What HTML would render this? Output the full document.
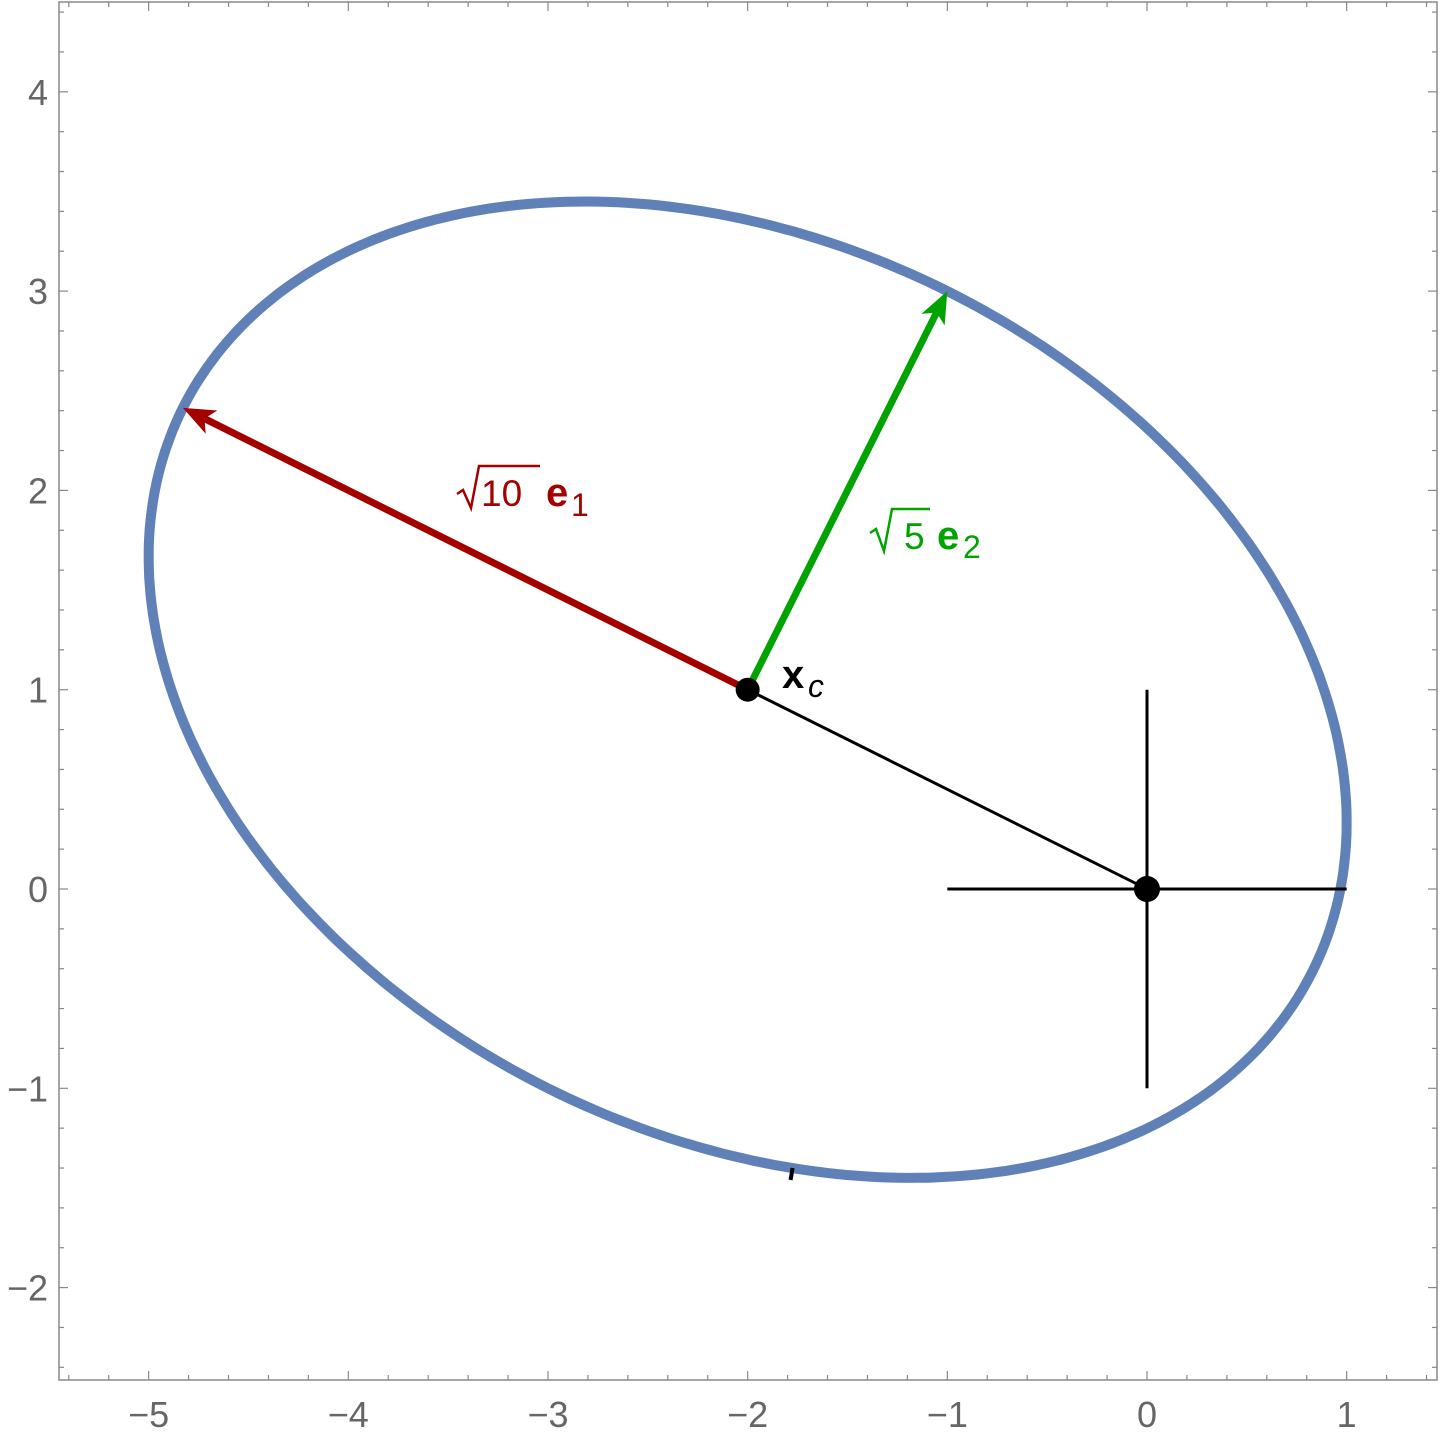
<!DOCTYPE html>
<html><head><meta charset="utf-8"><style>
html,body{margin:0;padding:0;background:#fff;}
svg{display:block;font-family:"Liberation Sans",sans-serif;}
</style></head><body>
<svg id="chart" width="1440" height="1439" viewBox="0 0 1440 1439" xmlns="http://www.w3.org/2000/svg">
<g id="frame"></g>
<g id="marks"></g>
</svg>
<script>
const xTicks=[-5,-4,-3,-2,-1,0,1];
const yTicks=[-2,-1,0,1,2,3,4];
const center=[-2,1];
const axis1=[-2,1];
const axis1Scale=Math.SQRT2;
const axis2=[1,2];
const origin=[0,0];
const crossArm=1;
const tickMarkPoint=[-1.78,-1.43];

const X0=1147,Y0=889,SX=199.67,SY=199.3;
const L=59,R=1437,T=2,B=1380;
const sx=v=>X0+v*SX, sy=v=>Y0-v*SY;
const NS="http://www.w3.org/2000/svg";
function mk(tag,attrs,parent){const e=document.createElementNS(NS,tag);for(const k in attrs)e.setAttribute(k,attrs[k]);parent.appendChild(e);return e;}
const frame=document.getElementById('frame'), marks=document.getElementById('marks');

let r=mk('rect',{x:L,y:T,width:R-L,height:B-T,fill:'none',stroke:'#888','stroke-width':1.5},frame);



for(let i=-55;i<=14;i++){const v=i/10;const px=sx(v);if(px<L||px>R)continue;
 const major=i%10===0, minor=i%2===0;if(!minor&&!major)continue;
 const len=major?9:5;
 mk('line',{x1:px,y1:B,x2:px,y2:B-len,stroke:'#888','stroke-width':1.2},frame);
 mk('line',{x1:px,y1:T,x2:px,y2:T+len,stroke:'#888','stroke-width':1.2},frame);}
for(let i=-25;i<=45;i++){const v=i/10;const py=sy(v);if(py<T||py>B)continue;
 const major=i%10===0, minor=i%2===0;if(!minor&&!major)continue;
 const len=major?9:5;
 mk('line',{x1:L,y1:py,x2:L+len,y2:py,stroke:'#888','stroke-width':1.2},frame);
 mk('line',{x1:R,y1:py,x2:R-len,y2:py,stroke:'#888','stroke-width':1.2},frame);}
xTicks.forEach(v=>{const t=mk('text',{x:sx(v),y:1427,'text-anchor':'middle','font-size':36,fill:'#666'},frame);t.textContent=v<0?'\u2212'+(-v):v;
 
 });
yTicks.forEach(v=>{const t=mk('text',{x:48,y:sy(v)+13,'text-anchor':'end','font-size':36,fill:'#666'},frame);t.textContent=v<0?'\u2212'+(-v):v;
 
 });

let d='';for(let k=0;k<=360;k++){const t=k*Math.PI/180;
 const x=center[0]+axis1Scale*axis1[0]*Math.cos(t)+axis2[0]*Math.sin(t);
 const y=center[1]+axis1Scale*axis1[1]*Math.cos(t)+axis2[1]*Math.sin(t);
 d+=(k?'L':'M')+sx(x).toFixed(1)+','+sy(y).toFixed(1);}
let el=mk('path',{d:d+'Z',fill:'none',stroke:'#5f81b8','stroke-width':10},marks);



let cr=mk('path',{d:`M${sx(origin[0]-crossArm)},${sy(origin[1])}H${sx(origin[0]+crossArm)}M${sx(origin[0])},${sy(origin[1]-crossArm)}V${sy(origin[1]+crossArm)}`,stroke:'#000','stroke-width':3,fill:'none'},marks);


let ln=mk('line',{x1:sx(center[0]),y1:sy(center[1]),x2:sx(origin[0]),y2:sy(origin[1]),stroke:'#000','stroke-width':3},marks);



function arrow(vec,color,name){
 const x1=sx(center[0]),y1=sy(center[1]),x2=sx(center[0]+vec[0]),y2=sy(center[1]+vec[1]);
 const dx=x2-x1,dy=y2-y1,len=Math.hypot(dx,dy),ux=dx/len,uy=dy/len;
 const hl=32,hw=13,bx=x2-ux*hl,by=y2-uy*hl;
 const g=mk('g',{},marks);
 
 
 mk('line',{x1,y1,x2:bx+ux*8,y2:by+uy*8,stroke:color,'stroke-width':7},g);
 mk('path',{d:`M${x2},${y2}L${bx-uy*hw},${by+ux*hw}L${bx+ux*8},${by+uy*8}L${bx+uy*hw},${by-ux*hw}Z`,fill:color},g);}
arrow([axis1[0]*axis1Scale,axis1[1]*axis1Scale],'#a40000','arrow-e1');
arrow(axis2,'#00a300','arrow-e2');

let p1=mk('circle',{cx:sx(center[0]),cy:sy(center[1]),r:12,fill:'#000'},marks);


let p2=mk('circle',{cx:sx(origin[0]),cy:sy(origin[1]),r:13,fill:'#000'},marks);


let tm=mk('line',{x1:sx(tickMarkPoint[0])+1,y1:sy(tickMarkPoint[1])-6,x2:sx(tickMarkPoint[0])-1,y2:sy(tickMarkPoint[1])+6,stroke:'#000','stroke-width':4},marks);


</script>
<svg style="position:absolute;left:0;top:0" width="1440" height="1439" font-family="Liberation Sans, sans-serif">
<g fill="#a40000">
<path d="M457,494 L463,490 L471,508 L479,466 L540,466" fill="none" stroke="#a40000" stroke-width="2.5"/>
<text x="481" y="506" font-size="37">10</text>
<text x="546" y="506" font-size="40" font-weight="bold">e</text>
<text x="571" y="516" font-size="32">1</text>
</g>
<g fill="#00a300">
<path d="M870,533 L876,529 L884,551 L892,509 L930,509" fill="none" stroke="#00a300" stroke-width="2.5"/>
<text x="904" y="549" font-size="37">5</text>
<text x="937" y="549" font-size="40" font-weight="bold">e</text>
<text x="963" y="558" font-size="32">2</text>
</g>
<g fill="#000">
<text x="782" y="688" font-size="40" font-weight="bold">x</text>
<text x="808" y="697" font-size="32" font-style="italic">c</text>
</g>
</svg>
</body></html>
